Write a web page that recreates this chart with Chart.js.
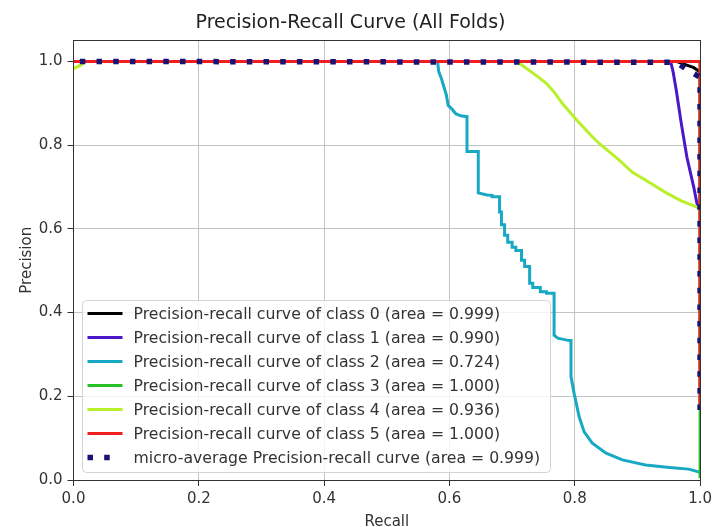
<!DOCTYPE html>
<html>
<head>
<meta charset="utf-8">
<title>Precision-Recall Curve (All Folds)</title>
<script src="https://cdn.jsdelivr.net/npm/chart.js@4.4.1/dist/chart.umd.min.js"></script>
<style>
  html, body { margin: 0; padding: 0; background: #ffffff; }
  canvas { display: block; }
</style>
</head>
<body>
<canvas id="pr" width="716" height="527"></canvas>
<script>
// Per-class precision-recall curves (recall on x, precision on y)
const classNames = ['class 0', 'class 1', 'class 2', 'class 3', 'class 4', 'class 5'];
const classAreas = ['0.999', '0.990', '0.724', '1.000', '0.936', '1.000'];
const microArea = '0.999';

const recall0    = [1.0, 1.0, 0.990, 0.962, 0.0];
const precision0 = [0.167, 0.975, 0.985, 1.0, 1.0];

const recall1    = [1.0, 1.0, 0.995, 0.990, 0.979, 0.970, 0.962, 0.957, 0.953, 0.0];
const precision1 = [0.167, 0.645, 0.661, 0.699, 0.771, 0.852, 0.931, 0.975, 1.0, 1.0];

const recall2    = [0.0, 0.581, 0.583, 0.587, 0.590, 0.595, 0.598, 0.603, 0.610, 0.618,
                    0.628, 0.628, 0.646, 0.646, 0.660, 0.668, 0.668, 0.680, 0.680, 0.683,
                    0.683, 0.688, 0.688, 0.693, 0.693, 0.700, 0.700, 0.706, 0.706, 0.715,
                    0.715, 0.720, 0.720, 0.728, 0.728, 0.733, 0.733, 0.745, 0.745, 0.755,
                    0.755, 0.767, 0.767, 0.773, 0.791, 0.794, 0.794, 0.799, 0.807, 0.815,
                    0.828, 0.850, 0.876, 0.913, 0.951, 0.982, 0.996, 1.0];
const precision2 = [1.0, 1.0, 0.975, 0.960, 0.945, 0.920, 0.895, 0.888, 0.875, 0.870,
                    0.868, 0.785, 0.785, 0.686, 0.681, 0.680, 0.677, 0.677, 0.640, 0.640,
                    0.610, 0.610, 0.585, 0.585, 0.568, 0.568, 0.556, 0.556, 0.548, 0.548,
                    0.525, 0.525, 0.510, 0.510, 0.470, 0.470, 0.460, 0.460, 0.450, 0.450,
                    0.446, 0.446, 0.346, 0.339, 0.333, 0.333, 0.247, 0.207, 0.151, 0.115,
                    0.088, 0.064, 0.048, 0.036, 0.030, 0.026, 0.020, 0.018];

const recall3    = [1.0, 1.0, 0.0];
const precision3 = [0.004, 1.0, 1.0];

const recall4    = [1.0, 1.0, 0.995, 0.970, 0.946, 0.920, 0.892, 0.871, 0.839, 0.828, 0.803, 0.780,
                    0.768, 0.755, 0.740, 0.723, 0.715, 0.706, 0.020, 0.010, 0.0];
const precision4 = [0.167, 0.645, 0.652, 0.667, 0.686, 0.710, 0.735, 0.764, 0.804, 0.820, 0.860, 0.900,
                    0.925, 0.947, 0.965, 0.983, 0.992, 1.0, 1.0, 0.990, 0.983];

const recall5    = [1.0, 1.0, 0.0];
const precision5 = [0.167, 1.0, 1.0];

const recallMicro    = [1.0, 1.0, 0.985, 0.962, 0.0];
const precisionMicro = [0.167, 0.962, 0.975, 0.998, 1.0];

const axisTicks = [0.0, 0.2, 0.4, 0.6, 0.8, 1.0];

const classColors = ['#000000', '#4a17c9', '#17a9c3', '#28c228', '#b8f02a', '#f01e1e'];
const microColor = '#191275';

const toPoints = (xs, ys) => xs.map((x, i) => ({ x: x, y: ys[i] }));

const classRecall = [recall0, recall1, recall2, recall3, recall4, recall5];
const classPrecision = [precision0, precision1, precision2, precision3, precision4, precision5];

const datasets = classNames.map((name, i) => ({
  label: 'Precision-recall curve of ' + name + ' (area = ' + classAreas[i] + ')',
  data: toPoints(classRecall[i], classPrecision[i]),
  borderColor: classColors[i],
  backgroundColor: classColors[i],
  borderWidth: 3,
  order: classNames.length - i
}));
datasets.push({
  label: 'micro-average Precision-recall curve (area = ' + microArea + ')',
  data: toPoints(recallMicro, precisionMicro),
  borderColor: microColor,
  backgroundColor: microColor,
  borderWidth: 5.5,
  borderDash: [5.5, 11.2],
  borderCapStyle: 'butt',
  order: 0
});

Chart.defaults.font.family = "'DejaVu Sans', sans-serif";
Chart.defaults.color = '#333333';

// Axes frame on all four sides plus a boxed legend in the lower-left corner
const frameAndLegend = {
  id: 'frameAndLegend',
  afterDatasetsDraw(chart) {
    const { ctx, chartArea: a } = chart;
    const l = Math.floor(a.left) + 0.5, t = Math.floor(a.top) + 0.5;
    const r = Math.floor(a.right) + 0.5, b = Math.floor(a.bottom) + 0.5;
    ctx.save();
    ctx.strokeStyle = '#333333';
    ctx.lineWidth = 1;
    ctx.strokeRect(l, t, r - l, b - t);
    ctx.restore();
  },
  afterDraw(chart) {
    const { ctx, chartArea: a } = chart;
    const items = chart.data.datasets;
    ctx.save();
    ctx.font = '15.7px "DejaVu Sans"';
    const rowH = 24;
    const textW = Math.max(...items.map(d => ctx.measureText(d.label).width));
    const boxL = Math.floor(a.left + 8.5) + 0.5;
    const boxB = Math.floor(a.bottom - 8) + 0.5;
    const boxH = 13 + rowH * (items.length - 1) + 15;
    const boxW = Math.round(51 + textW + 10);
    const boxT = boxB - boxH;
    const rad = 4;
    ctx.beginPath();
    ctx.moveTo(boxL + rad, boxT);
    ctx.lineTo(boxL + boxW - rad, boxT);
    ctx.arcTo(boxL + boxW, boxT, boxL + boxW, boxT + rad, rad);
    ctx.lineTo(boxL + boxW, boxB - rad);
    ctx.arcTo(boxL + boxW, boxB, boxL + boxW - rad, boxB, rad);
    ctx.lineTo(boxL + rad, boxB);
    ctx.arcTo(boxL, boxB, boxL, boxB - rad, rad);
    ctx.lineTo(boxL, boxT + rad);
    ctx.arcTo(boxL, boxT, boxL + rad, boxT, rad);
    ctx.closePath();
    ctx.fillStyle = 'rgba(255,255,255,0.8)';
    ctx.fill();
    ctx.strokeStyle = '#d4d4d4';
    ctx.lineWidth = 1;
    ctx.stroke();
    items.forEach((d, i) => {
      const y = boxT + 13 + i * rowH;
      ctx.beginPath();
      ctx.setLineDash(d.borderDash || []);
      ctx.lineCap = 'butt';
      ctx.lineWidth = d.borderWidth;
      ctx.strokeStyle = d.borderColor;
      ctx.moveTo(boxL + 5, y);
      ctx.lineTo(boxL + (d.borderDash ? 34 : 40), y);
      ctx.stroke();
      ctx.setLineDash([]);
      ctx.fillStyle = '#333333';
      ctx.textBaseline = 'middle';
      ctx.textAlign = 'left';
      ctx.fillText(d.label, boxL + 51, y + 1);
    });
    ctx.restore();
  }
};

new Chart(document.getElementById('pr'), {
  type: 'scatter',
  data: { datasets: datasets },
  options: {
    responsive: false,
    animation: false,
    devicePixelRatio: 1,
    showLine: true,
    clip: 0,
    elements: {
      point: { radius: 0, hoverRadius: 0 },
      line: { tension: 0, fill: false }
    },
    layout: { padding: { left: 0, right: 15, top: 0, bottom: 0 } },
    plugins: {
      legend: { display: false },
      tooltip: { enabled: false },
      title: {
        display: true,
        text: 'Precision-Recall Curve (All Folds)',
        color: '#222222',
        font: { size: 19, weight: 'normal' },
        padding: { top: 12, bottom: 5.7 }
      }
    },
    scales: {
      x: {
        type: 'linear',
        min: 0,
        max: 1,
        afterBuildTicks(scale) { scale.ticks = axisTicks.map(v => ({ value: v })); },
        afterFit(scale) { scale.height = 47; },
        ticks: {
          font: { size: 15 },
          color: '#333333',
          padding: 4,
          maxRotation: 0,
          autoSkip: false,
          callback: v => Number(v).toFixed(1)
        },
        grid: { color: '#c4c4c4', lineWidth: 1, drawTicks: true, tickLength: 6, tickColor: '#333333' },
        border: { display: false },
        title: {
          display: true,
          text: 'Recall',
          color: '#333333',
          font: { size: 15, lineHeight: 1 },
          padding: { top: 0, bottom: -3 }
        }
      },
      y: {
        type: 'linear',
        min: 0,
        max: 1.05,
        afterBuildTicks(scale) { scale.ticks = axisTicks.map(v => ({ value: v })); },
        afterFit(scale) { scale.width = 73.5; },
        ticks: {
          font: { size: 15 },
          color: '#333333',
          padding: 5,
          autoSkip: false,
          callback: v => Number(v).toFixed(1)
        },
        grid: { color: '#c4c4c4', lineWidth: 1, drawTicks: true, tickLength: 6, tickColor: '#333333' },
        border: { display: false },
        title: {
          display: true,
          text: 'Precision',
          color: '#333333',
          font: { size: 15, lineHeight: 1 },
          padding: { top: 19.5, bottom: 0 }
        }
      }
    }
  },
  plugins: [frameAndLegend]
});
</script>
</body>
</html>
